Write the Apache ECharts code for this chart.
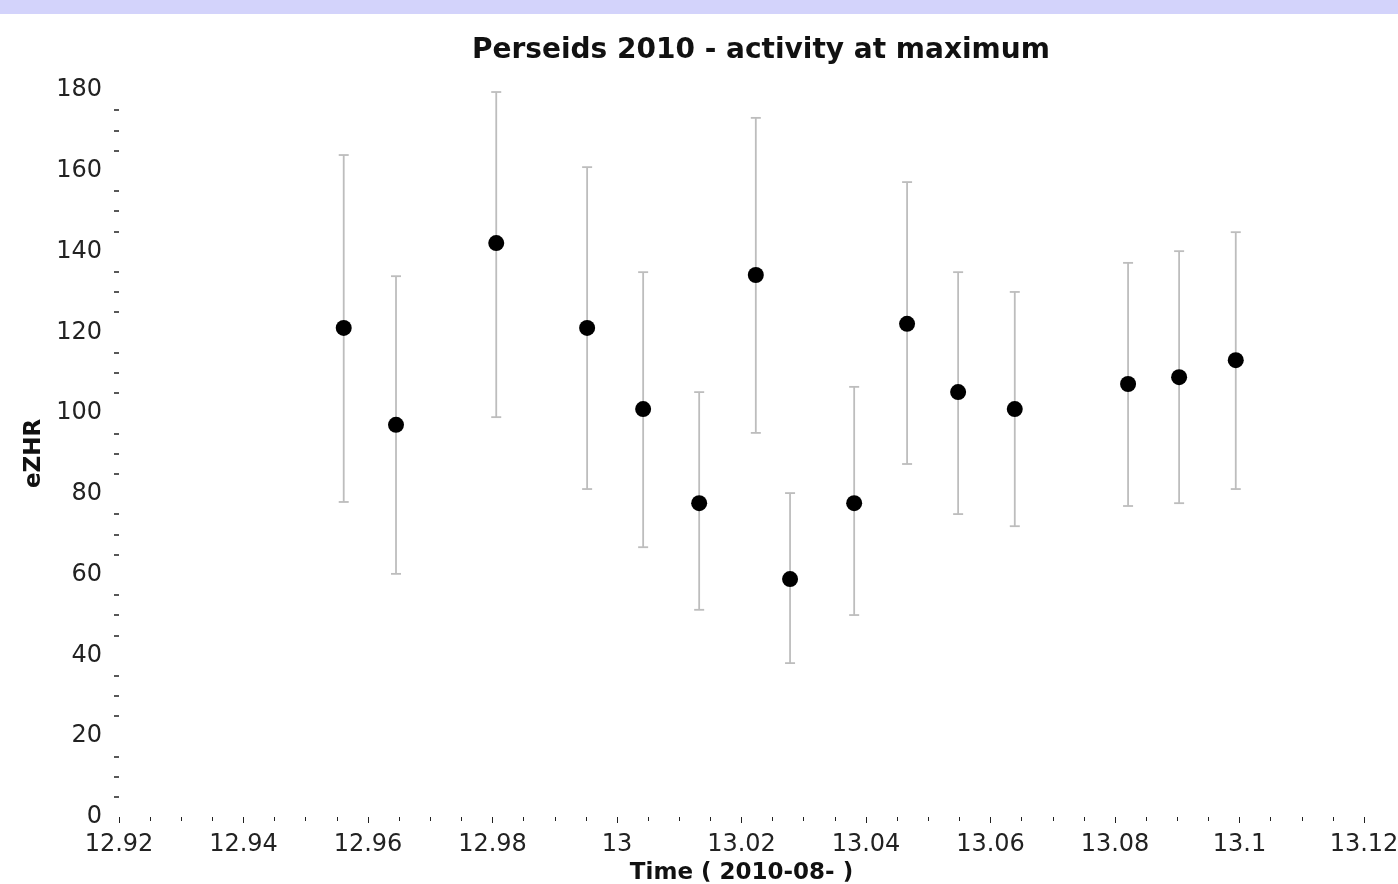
<!DOCTYPE html>
<html>
<head>
<meta charset="utf-8">
<script src="https://cdn.jsdelivr.net/npm/echarts@6/dist/echarts.min.js"></script>
<style>
html,body{margin:0;padding:0;background:#fff;}
#chart{width:1398px;height:884px;}
</style>
</head>
<body>
<div id="chart"></div>
<script>
var timeDays = [12.9561, 12.9645, 12.9806, 12.9952, 13.0042, 13.0132, 13.0223, 13.0278, 13.0381, 13.0466, 13.0548, 13.0639, 13.0821, 13.0903, 13.0994];
var ezhr     = [121.1, 97.1, 142.1, 121.1, 101.0, 77.7, 134.2, 58.9, 77.7, 122.1, 105.2, 101.0, 107.2, 108.9, 113.1];
var errHigh  = [163.9, 133.9, 179.5, 160.9, 134.9, 105.2, 173.1, 80.2, 106.5, 157.2, 134.9, 130.0, 137.2, 140.1, 144.8];
var errLow   = [78.0, 60.2, 99.0, 81.2, 66.8, 51.3, 95.1, 38.1, 50.0, 87.4, 75.0, 72.0, 77.0, 77.7, 81.2];

var points = timeDays.map(function (t, i) { return [t, ezhr[i]]; });
var bars = timeDays.map(function (t, i) { return [t, errLow[i], errHigh[i]]; });

var font = '"DejaVu Sans", "Liberation Sans", Arial, sans-serif';
var chart = echarts.init(document.getElementById('chart'), null, {renderer: 'canvas'});
chart.setOption({
  backgroundColor: '#ffffff',
  animation: false,
  graphic: [{
    type: 'rect', left: 0, top: 0, z: -1,
    shape: {width: 1398, height: 14},
    style: {fill: '#d3d3fb'}
  }],
  title: {
    text: 'Perseids 2010 - activity at maximum',
    left: 467, top: 32,
    textStyle: {fontFamily: font, fontSize: 28, fontWeight: 'bold', color: '#111'}
  },
  grid: {left: 119, right: 34, top: 90, bottom: 67, containLabel: false, outerBoundsMode: 'none'},
  xAxis: {
    type: 'value', min: 12.92, max: 13.12, interval: 0.02,
    name: 'Time ( 2010-08- )', nameLocation: 'middle', nameGap: 45,
    nameTextStyle: {fontFamily: font, fontSize: 23, fontWeight: 'bold', color: '#111'},
    axisLine: {show: false},
    axisTick: {show: true, length: 6, lineStyle: {color: '#222', width: 1}},
    minorTick: {show: true, splitNumber: 4, length: 4, lineStyle: {color: '#222', width: 1}},
    splitLine: {show: false},
    axisLabel: {fontFamily: font, fontSize: 24, color: '#222', margin: 16,
      formatter: function (v) { return String(Math.round(v * 100) / 100); }}
  },
  yAxis: {
    type: 'value', min: 0, max: 180, interval: 20,
    name: 'eZHR', nameLocation: 'middle', nameGap: 70, nameRotate: 90,
    nameTextStyle: {fontFamily: font, fontSize: 23, fontWeight: 'bold', color: '#111'},
    axisLine: {show: false},
    axisTick: {show: false},
    minorTick: {show: true, splitNumber: 4, length: 5, lineStyle: {color: '#222', width: 1.5}},
    splitLine: {show: false},
    axisLabel: {fontFamily: font, fontSize: 24, color: '#222', margin: 17}
  },
  series: [{
    type: 'custom',
    data: bars,
    z: 1,
    renderItem: function (params, api) {
      var x = api.value(0);
      var lo = api.coord([x, api.value(1)]);
      var hi = api.coord([x, api.value(2)]);
      var cap = 5;
      var st = {stroke: '#bdbdbd', lineWidth: 1.8};
      return {type: 'group', children: [
        {type: 'line', shape: {x1: lo[0], y1: lo[1], x2: hi[0], y2: hi[1]}, style: st},
        {type: 'line', shape: {x1: hi[0] - cap, y1: hi[1], x2: hi[0] + cap, y2: hi[1]}, style: st},
        {type: 'line', shape: {x1: lo[0] - cap, y1: lo[1], x2: lo[0] + cap, y2: lo[1]}, style: st}
      ]};
    }
  }, {
    type: 'scatter',
    data: points,
    z: 2,
    symbol: 'circle',
    symbolSize: 16,
    itemStyle: {color: '#000', opacity: 1}
  }]
});
</script>
</body>
</html>
